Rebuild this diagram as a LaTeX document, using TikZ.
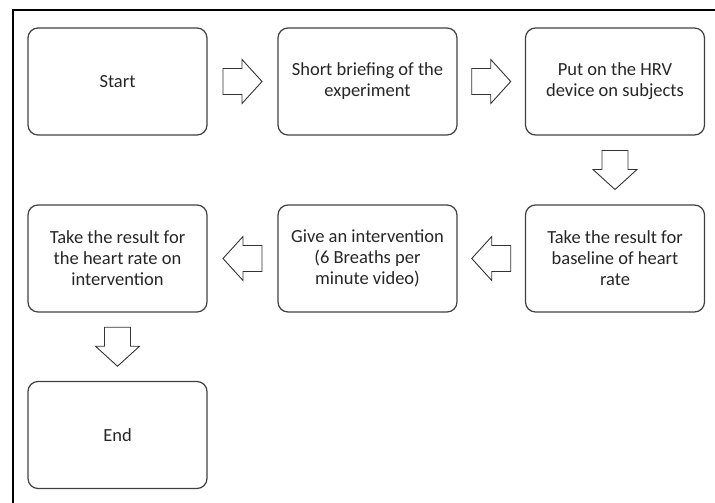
\documentclass[tikz,border=0pt]{standalone}
\usepackage{fontspec}
\setmainfont{Carlito}
\usetikzlibrary{calc}

\begin{document}
\begin{tikzpicture}[x=1pt,y=-1pt,
stepbox/.style={draw=black!75,line width=1.2pt,rounded corners=10pt,
  minimum width=179pt,minimum height=107pt,inner sep=0pt,align=center,
  text=black!85,font=\fontsize{18.5}{21}\selectfont},
blockarrow/.pic={\draw[black!80,line width=0.9pt]
  (-19.5,-13)--(-0.5,-13)--(-0.5,-22)--(19.5,0)--(-0.5,22)--(-0.5,13)--(-19.5,13)--cycle;}]
\useasboundingbox(0,0)rectangle(715,503);
% outer frame, cut at right and bottom
\draw[line width=1.4pt](13,503)--(13,10)--(715,10);
% first row
\node[stepbox](start)at(117.5,81.5){Start};
\node[stepbox](brief)at(367.5,81.5){Short briefing of the\\experiment};
\node[stepbox](device)at(615,81.5){Put on the HRV\\device on subjects};
% second row
\node[stepbox](baseline)at(615,258.5){Take the result for\\baseline of heart\\rate};
\node[stepbox](intervene)at(367.5,258.5){Give an intervention\\(6 Breaths per\\minute video)};
\node[stepbox](result)at(117.5,258.5){Take the result for\\the heart rate on\\intervention};
% last row
\node[stepbox](finish)at(117.5,435){End};
% block arrows
\pic at($(start.east)!0.5!(brief.west)$){blockarrow};
\pic at($(brief.east)!0.5!(device.west)$){blockarrow};
\pic[rotate=-90] at($(device.south)!0.5!(baseline.north)$){blockarrow};
\pic[rotate=180] at($(baseline.west)!0.5!(intervene.east)$){blockarrow};
\pic[rotate=180] at($(intervene.west)!0.5!(result.east)$){blockarrow};
\pic[rotate=-90] at($(result.south)!0.5!(finish.north)$){blockarrow};
\end{tikzpicture}
\end{document}
